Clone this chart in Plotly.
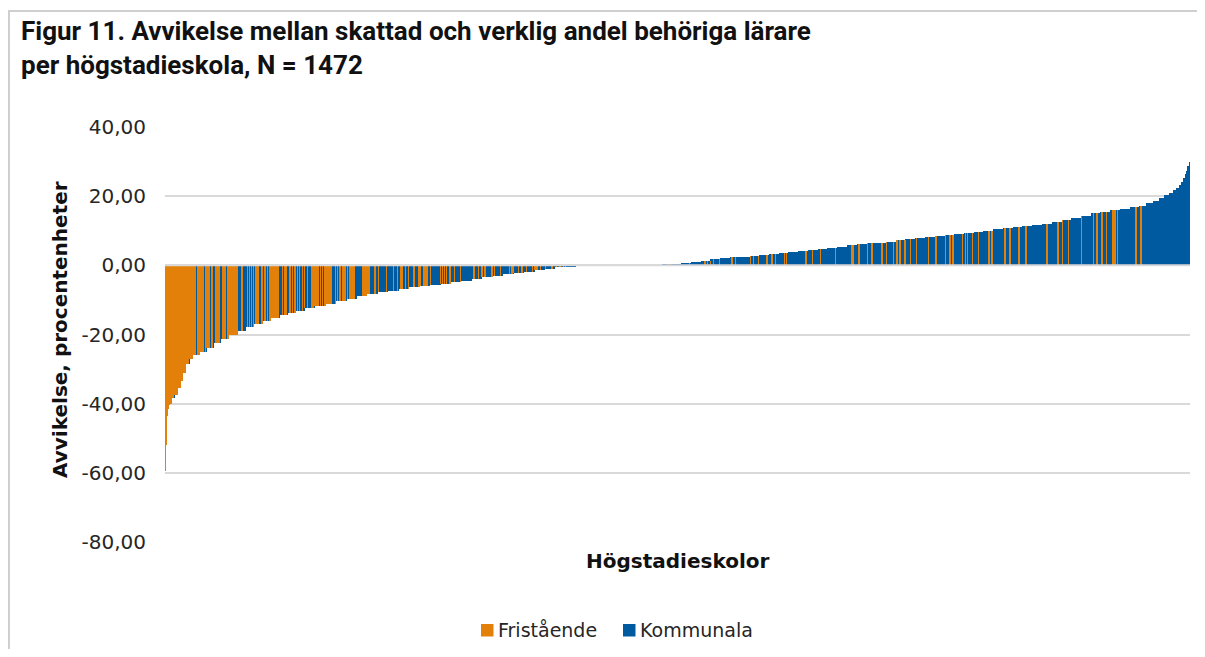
import numpy as np
import plotly.graph_objects as go

# sorted deviation per school, as runs: value (procentenheter) and number of schools
dev_value = [
    -59.6, -52.0, -46.0, -43.5, -41.5, -40.5, -40.0, -38.5, -37.5, -35.5, -33.5, -31.0,
    -28.5, -27.0, -26.0, -25.0, -23.8, -22.6, -21.4, -20.2, -19.0, -17.9, -16.9, -16.0,
    -15.2, -14.5, -13.8, -13.1, -12.4, -11.8, -11.2, -10.4, -9.7, -9.0, -8.4, -7.8,
    -7.3, -6.8, -6.4, -6.0, -5.7, -5.3, -4.9, -4.4, -3.9, -3.4, -3.0, -2.6,
    -2.2, -1.8, -1.4, -1.0, -0.6, -0.35, -0.15, 0.0,
    0.1, 0.4, 0.65, 0.95, 1.35, 1.7, 2.0, 2.3, 2.55, 2.75, 2.95, 3.2,
    3.5, 3.8, 4.1, 4.4, 4.75, 5.05, 5.35, 5.75, 6.05, 6.35, 6.6, 6.85,
    7.25, 7.6, 7.95, 8.3, 8.6, 8.9, 9.15, 9.4, 9.7, 10.0, 10.5, 10.8,
    11.05, 11.4, 11.7, 12.0, 12.4, 13.0, 13.7, 14.3, 15.0, 15.5, 15.9, 16.4,
    16.8, 17.3, 17.9, 18.5, 19.4, 20.2, 21.0, 21.7, 22.4, 23.2, 24.2, 25.3,
    26.5, 27.4, 28.6, 30.0,
]
dev_count = [
    1, 1, 1, 1, 1, 1, 4, 4, 4, 4, 4, 4,
    5, 5, 10, 10, 10, 10, 12, 12, 12, 12, 12, 12,
    12, 12, 12, 12, 15, 15, 15, 15, 15, 15, 15, 15,
    15, 15, 15, 15, 15, 15, 15, 15, 15, 15, 15, 15,
    15, 15, 15, 15, 15, 15, 10, 114,
    14, 14, 14, 14, 14, 14, 14, 14, 14, 14, 14, 14,
    14, 14, 14, 14, 14, 14, 14, 14, 14, 14, 14, 14,
    14, 14, 14, 14, 14, 14, 14, 14, 14, 14, 14, 14,
    14, 14, 14, 14, 14, 14, 14, 14, 14, 14, 14, 14,
    14, 10, 10, 8, 8, 6, 6, 5, 4, 3, 3, 2,
    2, 2, 2, 1,
]

# position (in sorted order) of the independent schools
fristaende_idx = [
    0, 1, 2, 3, 4, 5, 6, 7, 8, 9, 10, 11, 14, 15, 16, 17, 18, 19, 20, 21, 22, 23, 24, 25,
    27, 29, 31, 33, 35, 36, 37, 39, 40, 41, 42, 43, 47, 48, 49, 51, 52, 53, 54,
    58, 60, 61, 62, 63, 66, 67, 68, 72, 73, 75, 77, 82, 83, 84, 86,
    89, 90, 91, 93, 94, 95, 96, 98, 99, 100, 101, 103,
    110, 118, 121, 124, 127, 130, 133, 139, 142, 144, 147, 150, 153, 156, 159, 162,
    168, 171, 173, 179, 183, 186, 190, 193, 197, 200, 204, 210, 212, 215, 218, 220,
    223, 226, 229, 232, 235, 238, 244, 247, 251, 255, 258, 262, 265, 268, 271,
    284, 286, 287, 289, 290, 292, 293, 301, 306, 318, 328, 333, 338, 340, 345, 349,
    357, 364, 366, 371, 373, 376, 381, 395, 398, 401, 404, 409, 415, 424, 443, 450,
    455, 459, 469, 473, 481, 494, 498, 500, 507, 512, 519, 527, 531, 534, 539, 546,
    555, 562, 567, 572, 575,
    721, 725, 753, 775, 779, 783, 787, 796, 814, 819, 840, 845, 852, 864, 871, 876,
    889, 892, 920, 929, 941, 962, 986, 988, 996, 1008, 1015, 1029, 1036, 1046, 1051,
    1055, 1062, 1070, 1079, 1096, 1107, 1120, 1127, 1131, 1145, 1149, 1152, 1159,
    1168, 1183, 1187, 1206, 1213, 1226, 1236, 1266, 1282, 1288, 1297, 1316, 1333,
    1338, 1345, 1352, 1361, 1364, 1367, 1394, 1401,
]

y_ticks = [-80, -60, -40, -20, 0, 20, 40]
y_ticktext = ["-80,00", "-60,00", "-40,00", "-20,00", "0,00", "20,00", "40,00"]

ORANGE = "#E3800A"
BLUE = "#005AA0"

values = np.repeat(dev_value, dev_count)
n = len(values)
x = np.arange(n)
is_f = np.zeros(n, dtype=bool)
is_f[fristaende_idx] = True

y_f = np.where(is_f, values, np.nan)
y_k = np.where(is_f, np.nan, values)

fig = go.Figure()
fig.add_trace(go.Bar(x=x, y=y_k, name="Kommunala", marker_color=BLUE,
                     marker_line_width=0, showlegend=False))
fig.add_trace(go.Bar(x=x, y=y_f, name="Fristående", marker_color=ORANGE,
                     marker_line_width=0, width=0.6, showlegend=False))

# the page puts the figure 8px in from the top-left corner; keep it inside the window
OFF = 8
W, H = 1205 - 2 * OFF, 657 - 2 * OFF
ML, MT = 165 - OFF, 127 - OFF
MR = W - (1190 - OFF)
MB = H - (542 - OFF)
PW, PH = W - ML - MR, H - MT - MB


def px_x(p):  # screen px -> paper
    return (p - OFF - ML) / PW


def px_y(p):
    return (H - MB - (p - OFF)) / PH


shapes = [
    # figure frame (left and top edges)
    dict(type="line", xref="paper", yref="paper", x0=px_x(9), x1=px_x(9),
         y0=px_y(11), y1=px_y(700), line=dict(color="#cfcfcf", width=2)),
    dict(type="line", xref="paper", yref="paper", x0=px_x(8), x1=px_x(1260),
         y0=px_y(11), y1=px_y(11), line=dict(color="#cfcfcf", width=2)),
    # zero line over the bars
    dict(type="line", xref="paper", yref="y", x0=0, x1=1, y0=0, y1=0,
         line=dict(color="#d9d9d9", width=2), layer="above"),
]

annotations = [
    dict(text="<b>Figur 11. Avvikelse mellan skattad och verklig andel behöriga lärare"
              "<br>per högstadieskola, N = 1472</b>",
         xref="paper", yref="paper", x=px_x(19), y=px_y(48),
         xanchor="left", yanchor="middle", align="left", showarrow=False,
         font=dict(family="Roboto", size=26, color="#111111")),
    dict(text="<b>Avvikelse, procentenheter</b>", textangle=-90,
         xref="paper", yref="paper", x=px_x(60), y=px_y(330),
         xanchor="center", yanchor="middle", showarrow=False,
         font=dict(family="DejaVu Sans", size=20, color="#111111")),
    dict(text="<b>Högstadieskolor</b>",
         xref="paper", yref="paper", x=0.5, y=px_y(561),
         xanchor="center", yanchor="middle", showarrow=False,
         font=dict(family="DejaVu Sans", size=20, color="#111111")),
]

# legend below the plot: colour square + name for each trace
legend_left = [481, 623]
for tr, lx in zip([fig.data[1], fig.data[0]], legend_left):
    shapes.append(dict(type="rect", xref="paper", yref="paper",
                       x0=px_x(lx), x1=px_x(lx + 12.5), y0=px_y(636.5), y1=px_y(624),
                       fillcolor=tr.marker.color, line_width=0))
    annotations.append(dict(text=tr.name, xref="paper", yref="paper",
                            x=px_x(lx + 15), y=px_y(630), xanchor="left",
                            yanchor="middle", showarrow=False,
                            font=dict(family="DejaVu Sans", size=19, color="#262626")))

fig.update_layout(
    width=W, height=H,
    margin=dict(l=ML, r=MR, t=MT, b=MB),
    paper_bgcolor="white", plot_bgcolor="white",
    barmode="overlay", bargap=0,
    font=dict(family="DejaVu Sans", size=20, color="#262626"),
    showlegend=False,
    xaxis=dict(range=[-0.5, n - 0.5], showticklabels=False, showgrid=False,
               zeroline=False, showline=False, ticks=""),
    yaxis=dict(range=[-80, 40], tickvals=y_ticks, ticktext=y_ticktext,
               showgrid=True, gridcolor="#d9d9d9", gridwidth=2,
               zeroline=False, showline=False, ticks="", ticklabelstandoff=18),
    shapes=shapes,
    annotations=annotations,
)

fig.write_html("out.html")
